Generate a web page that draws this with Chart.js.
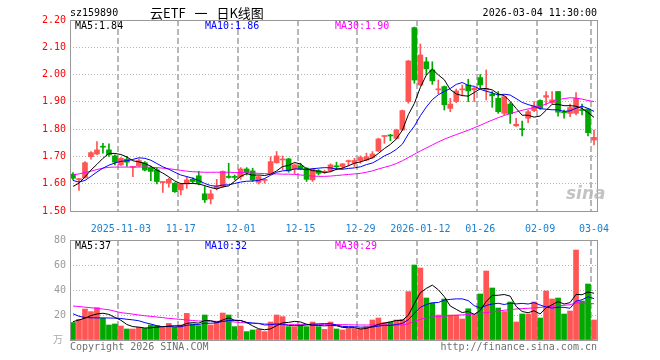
<!DOCTYPE html>
<html><head><meta charset="utf-8">
<script src="https://cdn.jsdelivr.net/npm/chart.js@4/dist/chart.umd.min.js"></script>
<style>
html,body{margin:0;padding:0;background:#fff;}
#wrap{position:relative;width:660px;height:360px;overflow:hidden;font-family:"DejaVu Sans Mono",monospace;}
canvas{position:absolute;left:0;}
.t{position:absolute;font-size:10px;line-height:12px;white-space:pre;}
</style></head><body>
<div id="wrap">
<canvas id="pc" width="660" height="232" style="top:0"></canvas>
<canvas id="vc" width="660" height="130" style="top:230px"></canvas>
<div class="t" style="left:70px;top:7px;color:#000">sz159890</div>
<div class="t" style="left:150px;top:5px;font-size:13px;line-height:16px;word-spacing:6px;font-family:'Noto Sans CJK SC';color:#000">云ETF 一 日K线图</div>
<div class="t" style="right:63px;top:7px;color:#000">2026-03-04 11:30:00</div>
<div class="t" style="left:75px;top:20px;color:#000">MA5:1.84</div>
<div class="t" style="left:205px;top:20px;color:#0000ff">MA10:1.86</div>
<div class="t" style="left:335px;top:20px;color:#ff00ff">MA30:1.90</div>
<div class="t" style="left:75px;top:240px;color:#000">MA5:37</div>
<div class="t" style="left:205px;top:240px;color:#0000ff">MA10:32</div>
<div class="t" style="left:335px;top:240px;color:#ff00ff">MA30:29</div>
<div class="t" style="left:53px;top:333px;color:#aaa;font-family:'Noto Sans CJK SC'">万</div>
<div class="t" style="left:70px;top:341px;color:#707070">Copyright 2026 SINA.COM</div>
<div class="t" style="right:63px;top:341px;color:#707070">http://finance.sina.com.cn</div>
<div class="t" style="left:566px;top:183px;font-size:17px;line-height:20px;font-style:italic;font-weight:bold;font-family:'DejaVu Sans';color:rgba(185,185,185,0.85)">sina</div>
</div>
<script>
const tickIdx  = [8, 18, 28, 38, 48, 58, 68, 78, 87];
const tickText = ['2025-11-03','11-17','12-01','12-15','12-29','2026-01-12','01-26','02-09','03-04'];

const open = [1.635,1.615,1.622,1.699,1.709,1.736,1.724,1.702,1.669,1.690,
1.660,1.665,1.677,1.657,1.651,1.604,1.602,1.602,1.577,1.599,
1.616,1.629,1.563,1.544,1.584,1.590,1.625,1.625,1.626,1.654,
1.647,1.605,1.612,1.638,1.677,1.687,1.691,1.654,1.665,1.657,
1.614,1.648,1.641,1.647,1.664,1.663,1.681,1.675,1.685,1.687,
1.696,1.720,1.773,1.777,1.766,1.797,1.901,2.172,1.962,2.047,
2.017,1.944,1.956,1.876,1.901,1.944,1.962,1.944,1.989,1.944,
1.929,1.913,1.858,1.892,1.812,1.800,1.840,1.868,1.905,1.917,
1.897,1.938,1.862,1.858,1.858,1.870,1.874,1.760];
const high = [1.641,1.620,1.681,1.718,1.754,1.748,1.746,1.706,1.696,1.700,
1.663,1.690,1.681,1.665,1.657,1.608,1.620,1.604,1.602,1.626,
1.622,1.645,1.590,1.577,1.616,1.647,1.675,1.632,1.659,1.659,
1.657,1.629,1.618,1.699,1.718,1.702,1.693,1.673,1.675,1.659,
1.657,1.652,1.650,1.673,1.679,1.674,1.687,1.693,1.702,1.712,
1.718,1.767,1.775,1.781,1.800,1.870,2.052,2.174,2.112,2.063,
2.047,1.980,1.958,1.913,1.947,1.962,1.983,1.953,2.000,2.017,
1.938,1.938,1.919,1.897,1.840,1.830,1.870,1.901,1.907,1.938,
1.938,1.938,1.870,1.892,1.934,1.892,1.876,1.797];
const low = [1.614,1.575,1.620,1.690,1.706,1.712,1.700,1.669,1.667,1.663,
1.626,1.663,1.647,1.611,1.599,1.568,1.587,1.568,1.559,1.583,
1.602,1.596,1.531,1.526,1.577,1.587,1.620,1.614,1.616,1.632,
1.608,1.599,1.602,1.636,1.675,1.651,1.642,1.637,1.651,1.608,
1.608,1.632,1.637,1.644,1.651,1.654,1.665,1.663,1.675,1.684,
1.693,1.718,1.748,1.758,1.763,1.795,1.895,1.968,1.960,1.999,
1.964,1.929,1.870,1.864,1.897,1.922,1.901,1.901,1.950,1.907,
1.880,1.858,1.852,1.821,1.810,1.775,1.824,1.864,1.872,1.889,
1.892,1.848,1.840,1.846,1.852,1.852,1.775,1.742];
const close = [1.620,1.618,1.677,1.714,1.724,1.734,1.706,1.679,1.693,1.679,
1.662,1.685,1.650,1.645,1.608,1.608,1.616,1.571,1.598,1.614,
1.608,1.602,1.541,1.563,1.590,1.645,1.623,1.623,1.654,1.641,
1.614,1.626,1.614,1.681,1.702,1.690,1.647,1.669,1.654,1.616,
1.654,1.638,1.643,1.669,1.662,1.673,1.684,1.685,1.696,1.699,
1.709,1.764,1.775,1.775,1.797,1.868,2.050,1.980,2.072,2.021,
1.977,1.946,1.889,1.892,1.940,1.946,1.940,1.950,1.962,1.947,
1.922,1.864,1.919,1.856,1.818,1.798,1.864,1.885,1.876,1.923,
1.907,1.862,1.860,1.879,1.913,1.868,1.787,1.770];

const ma5 = [1.590,1.602,1.625,1.650,1.671,1.693,1.711,1.711,1.707,1.698,
1.684,1.680,1.674,1.664,1.650,1.639,1.625,1.610,1.600,1.601,
1.601,1.599,1.593,1.586,1.581,1.588,1.592,1.609,1.627,1.637,
1.631,1.632,1.630,1.635,1.647,1.663,1.667,1.678,1.672,1.655,
1.648,1.646,1.641,1.644,1.653,1.657,1.666,1.675,1.680,1.687,
1.695,1.711,1.729,1.744,1.764,1.796,1.853,1.894,1.953,1.998,
2.020,1.999,1.981,1.945,1.929,1.923,1.921,1.934,1.948,1.949,
1.944,1.929,1.923,1.902,1.876,1.851,1.851,1.844,1.848,1.869,
1.891,1.891,1.886,1.886,1.884,1.876,1.861,1.843];
const ma10 = [1.612,1.606,1.612,1.627,1.643,1.657,1.668,1.676,1.682,1.684,
1.689,1.695,1.693,1.686,1.674,1.662,1.653,1.642,1.632,1.626,
1.620,1.612,1.601,1.593,1.591,1.595,1.596,1.601,1.606,1.609,
1.610,1.612,1.619,1.631,1.642,1.647,1.649,1.654,1.654,1.651,
1.655,1.657,1.659,1.658,1.654,1.653,1.656,1.658,1.662,1.670,
1.676,1.688,1.702,1.712,1.726,1.745,1.782,1.811,1.849,1.881,
1.908,1.926,1.938,1.949,1.964,1.971,1.960,1.957,1.946,1.939,
1.933,1.925,1.928,1.925,1.912,1.898,1.890,1.884,1.875,1.873,
1.871,1.871,1.865,1.867,1.877,1.884,1.876,1.865];
const ma30 = [1.632,1.636,1.641,1.646,1.652,1.657,1.660,1.661,1.661,1.661,
1.661,1.661,1.661,1.660,1.659,1.657,1.655,1.652,1.649,1.646,
1.644,1.643,1.642,1.642,1.642,1.642,1.642,1.641,1.641,1.640,
1.639,1.638,1.637,1.636,1.636,1.635,1.635,1.634,1.632,1.630,
1.628,1.627,1.627,1.628,1.630,1.632,1.634,1.636,1.638,1.642,
1.647,1.654,1.660,1.666,1.674,1.684,1.696,1.708,1.720,1.731,
1.742,1.753,1.763,1.772,1.780,1.788,1.796,1.805,1.814,1.824,
1.833,1.842,1.850,1.857,1.863,1.869,1.874,1.879,1.884,1.892,
1.901,1.908,1.912,1.915,1.914,1.910,1.905,1.901];

const volume = [14,16.5,24.8,22.7,25.9,17.3,12,12.8,11.2,8.8,
8.8,10.1,9.3,12,11.5,9.9,13.3,10.1,12,21.3,
12.8,11.5,20,12,14.7,21.6,20,10.7,11.2,6.7,
8,8.5,6.7,14.4,20,18.7,10.7,10.7,12,10.7,
14.4,10.7,8.5,14.4,8.8,8,9.1,9.1,9.1,10.7,
16,17.6,14,14.4,16,16.5,38.7,60,57.6,33.6,
29.6,20,32.8,20,20,16.8,25,20,36.8,55.2,
41.6,25.6,22.7,30.4,14.4,20.8,20.8,30.4,17.6,39.2,
32.8,33.6,20.8,23.2,72,31.2,44.8,16];
const vma5 = [14.7,16.0,17.5,19.5,20.8,21.4,20.5,18.1,15.8,12.4,
10.7,10.3,9.6,9.8,10.3,10.6,11.2,11.4,11.4,13.3,
13.9,13.5,15.5,15.5,14.2,16.0,17.7,15.8,15.6,14.0,
11.3,9.0,8.2,8.9,11.5,13.7,14.1,14.9,14.4,12.6,
11.7,11.7,11.3,11.7,11.4,10.1,9.8,9.9,8.8,9.2,
10.8,12.5,13.5,14.5,15.6,15.7,19.9,29.1,37.8,41.3,
43.9,40.2,34.7,27.2,24.5,21.9,22.9,20.4,23.7,30.8,
35.7,35.8,36.4,35.1,26.9,22.8,21.8,23.4,20.8,25.8,
28.2,30.7,28.8,29.9,36.5,36.2,38.4,37.4];
const vma10 = [21.0,19.0,18.0,17.8,17.7,17.7,17.6,17.5,17.2,16.6,
16.1,15.4,13.9,12.8,11.4,10.6,10.8,10.5,10.6,11.8,
12.2,12.4,13.4,13.4,13.8,14.9,15.6,15.7,15.6,14.1,
13.6,13.3,12.0,12.3,12.8,12.5,11.6,11.6,11.6,12.0,
12.7,12.9,13.1,13.1,12.0,10.9,10.7,10.6,10.3,10.3,
10.4,11.1,11.7,11.7,12.4,13.3,16.2,21.3,26.2,28.4,
29.8,30.0,31.9,32.5,32.9,32.9,31.5,27.5,25.5,27.6,
28.8,29.4,28.4,29.4,28.9,29.3,28.8,29.9,28.0,26.4,
25.5,26.3,26.1,25.4,31.1,32.2,34.6,33.1];
const vma30 = [27.2,26.8,26.3,25.8,25.3,24.8,24.2,23.0,21.9,21.3,
20.7,20.0,19.4,18.9,18.4,17.9,17.3,16.9,16.5,16.0,
15.6,15.2,15.1,15.0,14.9,14.8,14.7,14.4,14.0,13.6,
13.3,13.1,12.9,12.7,12.6,12.5,12.5,12.5,12.5,12.5,
12.5,12.5,12.5,12.5,12.4,12.3,12.2,12.1,12.0,12.0,
12.0,12.0,12.0,12.0,12.0,12.0,13.0,15.0,16.5,17.8,
18.4,18.8,19.2,19.5,19.8,20.1,20.4,20.8,21.3,21.9,
22.6,23.2,23.8,24.3,24.8,25.1,25.4,25.7,26.1,26.5,
27.0,27.4,27.8,28.2,29.8,29.5,29.3,29.0];

const UP = '#ff5555', DN = '#00a800';
const labels = close.map((_, i) => i);
const colors = close.map((c, i) => c >= open[i] ? UP : DN);
const GRID = '#b4b4b4';
const monoFont = {family: 'DejaVu Sans Mono', size: 10};

const frame = {
  id: 'frame',
  beforeDatasetsDraw(c) {
    const xs = c.scales.x, a = c.chartArea, ctx = c.ctx;
    const step = xs.getPixelForValue(1) - xs.getPixelForValue(0);
    ctx.save();
    ctx.strokeStyle = '#b8b8b8';
    ctx.lineWidth = 2;
    ctx.setLineDash([6, 3]);
    tickIdx.forEach(i => {
      const px = Math.round(xs.getPixelForValue(i) - step / 2);
      ctx.beginPath(); ctx.moveTo(px, a.top); ctx.lineTo(px, a.bottom); ctx.stroke();
    });
    ctx.restore();
  },
  afterDatasetsDraw(c) {
    const a = c.chartArea, x = c.ctx;
    x.save();
    x.strokeStyle = '#999999';
    x.lineWidth = 1;
    x.strokeRect(Math.round(a.left) + 0.5, Math.round(a.top) + 0.5,
      Math.round(a.right - a.left), Math.round(a.bottom - a.top));
    x.restore();
  }
};

function lineDs(data, color) {
  return {type: 'line', data, borderColor: color, borderWidth: 1, pointRadius: 0,
          tension: 0, fill: false, order: 0};
}
function xScale(showLabels) {
  return {
    offset: true,
    grid: {display: false},
    border: {display: false},
    ticks: {display: showLabels, autoSkip: false, maxRotation: 0, minRotation: 0, padding: 4,
            color: '#1a80d0', font: monoFont,
            callback: (v, i) => { const k = tickIdx.indexOf(i); return k >= 0 ? tickText[k] : ''; }},
    afterFit: s => { s.height = showLabels ? 21 : 20; }
  };
}
const common = {
  responsive: false, animation: false, events: [],
  plugins: {legend: {display: false}, tooltip: {enabled: false}}
};

new Chart(document.getElementById('pc'), {
  type: 'bar',
  data: {labels, datasets: [
    lineDs(ma5, '#000000'), lineDs(ma10, '#0000ff'), lineDs(ma30, '#ff00ff'),
    {data: low.map((l, i) => [l, high[i]]), backgroundColor: colors, barThickness: 1,
     grouped: false, order: 2},
    {data: open.map((o, i) => [o, close[i]]), backgroundColor: colors, barThickness: 5,
     minBarLength: 1, grouped: false, order: 1}
  ]},
  options: Object.assign({}, common, {
    layout: {padding: {left: 0, right: 63, top: 20, bottom: 0}},
    scales: {
      x: xScale(true),
      y: {min: 1.5, max: 2.2,
          ticks: {stepSize: 0.1, color: '#ff0000', padding: 4, font: monoFont,
                  callback: v => Number(v).toFixed(2)},
          grid: {drawTicks: false, color: GRID},
          border: {display: false, dash: [1, 2]},
          afterFit: s => { s.width = 70; }}
    }
  }),
  plugins: [frame]
});

new Chart(document.getElementById('vc'), {
  type: 'bar',
  data: {labels, datasets: [
    lineDs(vma5, '#000000'), lineDs(vma10, '#0000ff'), lineDs(vma30, '#ff00ff'),
    {data: volume, backgroundColor: colors, barThickness: 5, order: 1}
  ]},
  options: Object.assign({}, common, {
    layout: {padding: {left: 0, right: 63, top: 10, bottom: 0}},
    scales: {
      x: xScale(false),
      y: {min: 0, max: 80,
          ticks: {stepSize: 20, color: '#9a9a9a', padding: 4, font: monoFont,
                  callback: v => v === 0 ? '' : String(v)},
          grid: {drawTicks: false, color: GRID},
          border: {display: false, dash: [1, 2]},
          afterFit: s => { s.width = 70; }}
    }
  }),
  plugins: [frame]
});
</script>
</body></html>
